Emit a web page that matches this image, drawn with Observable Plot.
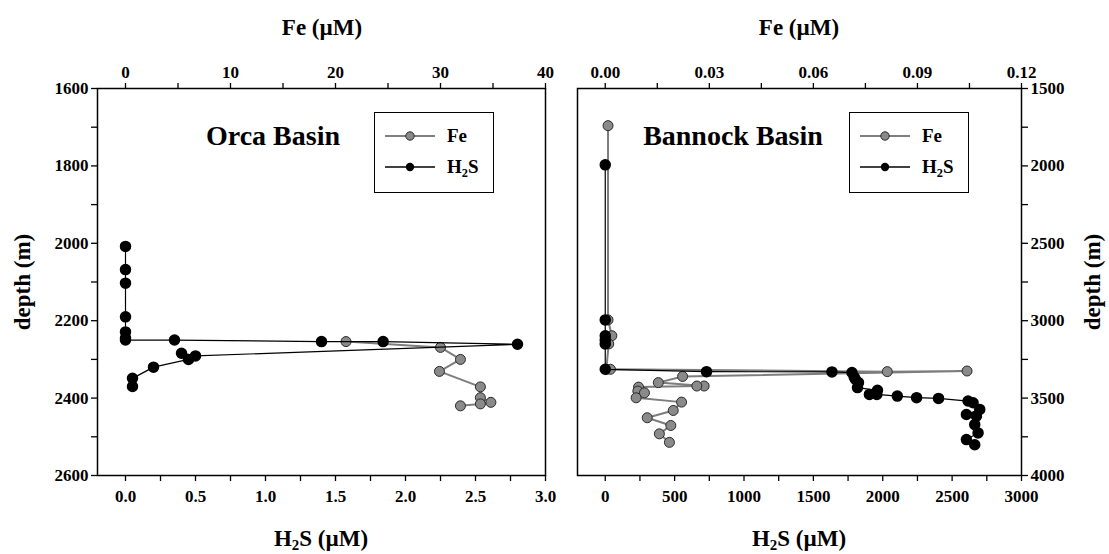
<!DOCTYPE html>
<html>
<head>
<meta charset="utf-8">
<script src="https://cdn.jsdelivr.net/npm/d3@7"></script>
<script src="https://cdn.jsdelivr.net/npm/@observablehq/plot@0.6"></script>
<style>
  body { margin: 0; background: #fff; }
  #wrap { position: relative; width: 1109px; height: 554px; overflow: hidden;
          font-family: "Liberation Serif", "Times New Roman", serif; font-weight: bold; color: #000; }
  #wrap svg.layer { position: absolute; left: 0; top: 0; }
  .lbl { position: absolute; white-space: nowrap; line-height: 1; transform: translate(-50%, -50%); }
  .axt { font-size: 23px; }
  .ttl { font-size: 28px; }
  .rot { transform: translate(-50%, -50%) rotate(-90deg); }
  sub { font-size: 0.65em; vertical-align: -0.3em; line-height: 0; }
  .legend { position: absolute; border: 1.3px solid #000; box-sizing: border-box; background: #fff; }
</style>
</head>
<body>
<div id="wrap"></div>
<script>
// ---------------- data ----------------
// Orca Basin
const orcaH2S_conc  = [0, 0, 0, 0, 0, 0, 0, 0.35, 1.40, 1.84, 2.80, 0.50, 0.40, 0.45, 0.20, 0.05, 0.05];
const orcaH2S_depth = [2008, 2068, 2103, 2190, 2229, 2245, 2250, 2250, 2254, 2254, 2261, 2291, 2284, 2300, 2320, 2349, 2370];
const orcaFe_conc   = [21.0, 30.0, 31.9, 29.9, 33.8, 33.8, 34.8, 33.8, 31.9];
const orcaFe_depth  = [2254, 2269, 2300, 2331, 2371, 2399, 2411, 2415, 2420];
// Bannock Basin
const bannockH2S_conc  = [0, 0, 0, 0, 0, 0, 730, 1634, 1778, 1794, 1802, 1825, 1818, 1962, 1904, 1957, 2105, 2244, 2402,
                          2615, 2651, 2699, 2603, 2675, 2663, 2687, 2603, 2663];
const bannockH2S_depth = [1993, 2995, 3097, 3125, 3150, 3314, 3329, 3331, 3335, 3364, 3378, 3400, 3432, 3450, 3476, 3476, 3487, 3497, 3502,
                          3519, 3530, 3573, 3606, 3617, 3671, 3725, 3768, 3801];
const bannockFe_conc   = [0.0008, 0.0008, 0.0019, 0.0010, 0.0003, 0.0015, 0.0813, 0.1043, 0.0223, 0.0153, 0.0285, 0.0264,
                          0.0096, 0.0094, 0.0113, 0.0089, 0.0220, 0.0196, 0.0121, 0.0189, 0.0156, 0.0185];
const bannockFe_depth  = [1740, 2995, 3097, 3150, 3314, 3314, 3329, 3325, 3360, 3400, 3422, 3422,
                          3429, 3455, 3466, 3498, 3526, 3580, 3627, 3677, 3731, 3786];

// tick values
const orcaDepthTicks = [1600, 1800, 2000, 2200, 2400, 2600];
const orcaDepthMinor = [1700, 1900, 2100, 2300, 2500];
const orcaH2STicks   = [0, 0.5, 1.0, 1.5, 2.0, 2.5, 3.0];
const orcaH2SMinor   = [0.25, 0.75, 1.25, 1.75, 2.25, 2.75];
const orcaFeTicks    = [0, 10, 20, 30, 40];
const orcaFeMinor    = [5, 15, 25, 35];
const bannockDepthTicks = [1500, 2000, 2500, 3000, 3500, 4000];
const bannockDepthMinor = [1750, 2250, 2750, 3250, 3750];
const bannockH2STicks   = [0, 500, 1000, 1500, 2000, 2500, 3000];
const bannockH2SMinor   = [250, 750, 1250, 1750, 2250, 2750];
const bannockFeTicks    = [0, 0.03, 0.06, 0.09, 0.12];
const bannockFeMinor    = [0.015, 0.045, 0.075, 0.105];

// ---------------- layout ----------------
const W = 1109, H = 554, MT = 88, MB = 554 - 475;
const FONT = '"Liberation Serif", "Times New Roman", serif';
const rows = (c, d) => c.map((v, i) => ({c: v, d: d[i]}));

const panels = [
  {
    ml: 97, mr: W - 545,
    h2sDomain: [-0.2, 3.0], feDomain: [-40 / 15, 40], depthDomain: [1600, 2600],
    yAnchor: "left",
    h2s: rows(orcaH2S_conc, orcaH2S_depth), fe: rows(orcaFe_conc, orcaFe_depth),
    depthTicks: orcaDepthTicks, depthMinor: orcaDepthMinor,
    h2sTicks: orcaH2STicks, h2sMinor: orcaH2SMinor, h2sFmt: d => d.toFixed(1),
    feTicks: orcaFeTicks, feMinor: orcaFeMinor, feFmt: d => String(d)
  },
  {
    ml: 577, mr: W - 1021,
    h2sDomain: [-200, 3000], feDomain: [-0.008, 0.12], depthDomain: [1500, 4000],
    yAnchor: "right",
    h2s: rows(bannockH2S_conc, bannockH2S_depth), fe: rows(bannockFe_conc, bannockFe_depth),
    depthTicks: bannockDepthTicks, depthMinor: bannockDepthMinor,
    h2sTicks: bannockH2STicks, h2sMinor: bannockH2SMinor, h2sFmt: d => String(d),
    feTicks: bannockFeTicks, feMinor: bannockFeMinor, feFmt: d => d.toFixed(2)
  }
];

const wrap = document.getElementById("wrap");
const common = (p) => ({
  width: W, height: H,
  marginLeft: p.ml, marginRight: p.mr, marginTop: MT, marginBottom: MB,
  style: {background: "transparent", fontFamily: FONT, fontWeight: "bold", fontSize: "17px", color: "#000", overflow: "visible"},
  y: {domain: p.depthDomain, reverse: true, axis: null}
});
const txt = {fontSize: 17, fontWeight: "bold", fontFamily: FONT, fill: "#000"};

for (const p of panels) {
  // Fe layer (below)
  const fe = Plot.plot({
    ...common(p),
    x: {domain: p.feDomain, axis: null},
    marks: [
      Plot.axisX(p.feTicks, {anchor: "top", tickSize: 6, tickPadding: 5, tickFormat: p.feFmt, label: null, strokeWidth: 1.3, ...txt}),
      Plot.axisX(p.feMinor, {anchor: "top", tickSize: 6, tickFormat: () => "", label: null, strokeWidth: 1.3}),
      Plot.line(p.fe, {x: "c", y: "d", stroke: "#7d7d7d", strokeWidth: 2}),
      Plot.dot(p.fe, {x: "c", y: "d", r: 5, fill: "#8a8a8a", stroke: "#2a2a2a", strokeWidth: 1})
    ]
  });
  // H2S layer (above) with frame and depth/H2S axes
  const hs = Plot.plot({
    ...common(p),
    x: {domain: p.h2sDomain, axis: null},
    marks: [
      Plot.frame({stroke: "#000", strokeWidth: 1.5}),
      Plot.axisY(p.depthTicks, {anchor: p.yAnchor, tickSize: 6, tickPadding: 3, tickFormat: d => String(d), label: null, strokeWidth: 1.3, ...txt}),
      Plot.axisY(p.depthMinor, {anchor: p.yAnchor, tickSize: 6, tickFormat: () => "", label: null, strokeWidth: 1.3}),
      Plot.axisX(p.h2sTicks, {anchor: "bottom", tickSize: 6, tickPadding: 8, tickFormat: p.h2sFmt, label: null, strokeWidth: 1.3, ...txt}),
      Plot.axisX(p.h2sMinor, {anchor: "bottom", tickSize: 6, tickFormat: () => "", label: null, strokeWidth: 1.3}),
      Plot.line(p.h2s, {x: "c", y: "d", stroke: "#000", strokeWidth: 1.2}),
      Plot.dot(p.h2s, {x: "c", y: "d", r: 5, fill: "#000", stroke: "#000"})
    ]
  });
  fe.classList.add("layer");
  hs.classList.add("layer");
  wrap.appendChild(fe);
  wrap.appendChild(hs);
}

// ---------------- text labels ----------------
function label(html, x, y, cls) {
  const d = document.createElement("div");
  d.className = "lbl " + cls;
  d.innerHTML = html;
  d.style.left = x + "px";
  d.style.top = y + "px";
  wrap.appendChild(d);
}
label("Fe (µM)", 322, 27, "axt");
label("Fe (µM)", 799, 27, "axt");
label("H<sub>2</sub>S (µM)", 321, 538, "axt");
label("H<sub>2</sub>S (µM)", 799, 538, "axt");
label("depth (m)", 22, 282, "axt rot");
label("depth (m)", 1092, 282, "axt rot");
label("Orca Basin", 273, 136, "ttl");
label("Bannock Basin", 733, 136, "ttl");

// ---------------- legends ----------------
function legend(x, y) {
  const box = document.createElement("div");
  box.className = "legend";
  Object.assign(box.style, {left: x + "px", top: y + "px", width: "120px", height: "81px"});
  box.innerHTML = `
    <svg width="120" height="81" style="position:absolute;left:0;top:0">
      <line x1="10" x2="60" y1="23" y2="23" stroke="#555" stroke-width="1.5"/>
      <circle cx="35" cy="23" r="4.2" fill="#8a8a8a" stroke="#2a2a2a" stroke-width="1"/>
      <line x1="10" x2="60" y1="54" y2="54" stroke="#000" stroke-width="1.5"/>
      <circle cx="35" cy="54" r="4.2" fill="#000"/>
    </svg>
    <div style="position:absolute;left:72px;top:13px;font-size:19px;line-height:1">Fe</div>
    <div style="position:absolute;left:72px;top:44px;font-size:19px;line-height:1">H<sub>2</sub>S</div>`;
  wrap.appendChild(box);
}
legend(374, 112);
legend(849, 112);
</script>
</body>
</html>
